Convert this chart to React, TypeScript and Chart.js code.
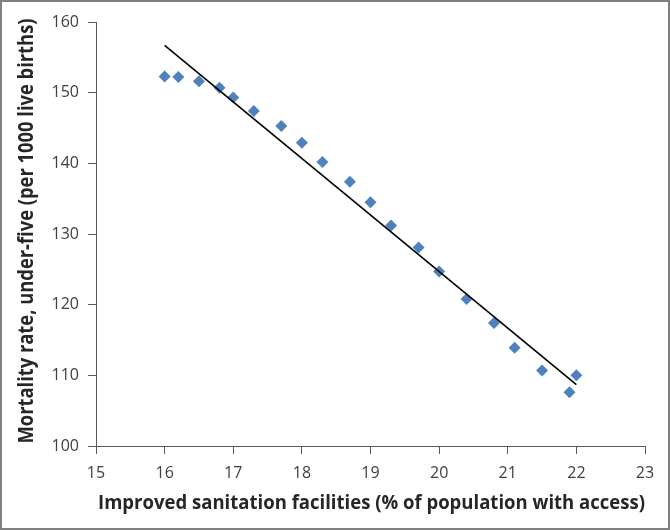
import React, { useEffect, useRef } from "react";
import { Chart, registerables } from "chart.js";

Chart.register(...registerables);

// Data
const sanitation = [16.0, 16.2, 16.5, 16.8, 17.0, 17.3, 17.7, 18.0, 18.3, 18.7, 19.0, 19.3, 19.7, 20.0, 20.4, 20.8, 21.1, 21.5, 21.9, 22.0];
const mortality = [152.3, 152.2, 151.6, 150.7, 149.3, 147.4, 145.3, 142.9, 140.2, 137.4, 134.5, 131.2, 128.1, 124.7, 120.8, 117.4, 113.9, 110.7, 107.6, 110.0];
const trendX = [16.0, 22.0];
const trendY = [156.7, 108.7];
const xTickValues = [15, 16, 17, 18, 19, 20, 21, 22, 23];
const yTickValues = [100, 110, 120, 130, 140, 150, 160];
const xTitle = "Improved sanitation facilities (% of population with access)";
const yTitle = "Mortality rate, under-five (per 1000 live births)";

const decor = {
  id: "decor",
  beforeDraw(chart: any) {
    const { ctx } = chart;
    ctx.save();
    ctx.fillStyle = "#ffffff";
    ctx.fillRect(0, 0, chart.width, chart.height);
    ctx.restore();
  },
  afterDraw(chart: any) {
    const { ctx, chartArea } = chart;
    ctx.save();
    ctx.strokeStyle = "#808080";
    ctx.lineWidth = 2;
    ctx.strokeRect(1, 1, chart.width - 2, chart.height - 2);
    ctx.fillStyle = "#262626";
    ctx.font = 'bold 20px "Open Sans"';
    ctx.textAlign = "center";
    ctx.textBaseline = "middle";
    ctx.fillText(xTitle, (chartArea.left + chartArea.right) / 2 + 1, chartArea.bottom + 57, chartArea.right - chartArea.left - 2);
    ctx.font = 'bold 21px "Open Sans"';
    ctx.translate(27, (chartArea.top + chartArea.bottom) / 2 - 3);
    ctx.rotate(-Math.PI / 2);
    ctx.fillText(yTitle, 0, 0, 425);
    ctx.restore();
  },
};

export default function App() {
  const ref = useRef<HTMLCanvasElement>(null);
  useEffect(() => {
    if (!ref.current) return;
    const axisColor = "#595959";
    const tickFont = { family: '"Open Sans"', size: 16 };
    const chart = new Chart(ref.current, {
      type: "scatter",
      data: {
        datasets: [
          {
            type: "line",
            data: trendX.map((x, i) => ({ x, y: trendY[i] })),
            borderColor: "#000000",
            borderWidth: 1.6,
            pointRadius: 0,
            fill: false,
          } as any,
          {
            data: sanitation.map((x, i) => ({ x, y: mortality[i] })),
            pointStyle: "rectRot",
            pointRadius: 6,
            backgroundColor: "#4F81BD",
            borderWidth: 0,
          },
        ],
      },
      options: {
        animation: false,
        responsive: false,
        events: [],
        layout: { padding: { top: 22, right: 25, left: 0, bottom: 0 } },
        plugins: { legend: { display: false }, tooltip: { enabled: false } },
        scales: {
          x: {
            type: "linear",
            position: "bottom",
            min: 15,
            max: 23,
            afterBuildTicks: (s: any) => {
              s.ticks = xTickValues.map((v) => ({ value: v }));
            },
            afterFit: (s: any) => {
              s.height = 84;
            },
            ticks: { font: tickFont, color: "#404040", padding: 10, maxRotation: 0 },
            grid: { drawOnChartArea: false, drawTicks: true, tickLength: 8, tickColor: axisColor, color: axisColor },
            border: { display: true, color: axisColor, width: 1 },
          },
          y: {
            type: "linear",
            min: 100,
            max: 160,
            afterBuildTicks: (s: any) => {
              s.ticks = yTickValues.map((v) => ({ value: v }));
            },
            afterFit: (s: any) => {
              s.width = 96;
            },
            ticks: { font: tickFont, color: "#404040", padding: 9 },
            grid: { drawOnChartArea: false, drawTicks: true, tickLength: 8, tickColor: axisColor, color: axisColor },
            border: { display: true, color: axisColor, width: 1 },
          },
        },
      },
      plugins: [decor],
    });
    return () => chart.destroy();
  }, []);
  return (
    <div style={{ position: "absolute", left: 0, top: 0, width: 670, height: 530 }}>
      <canvas ref={ref} width={670} height={530} style={{ display: "block" }} />
    </div>
  );
}
